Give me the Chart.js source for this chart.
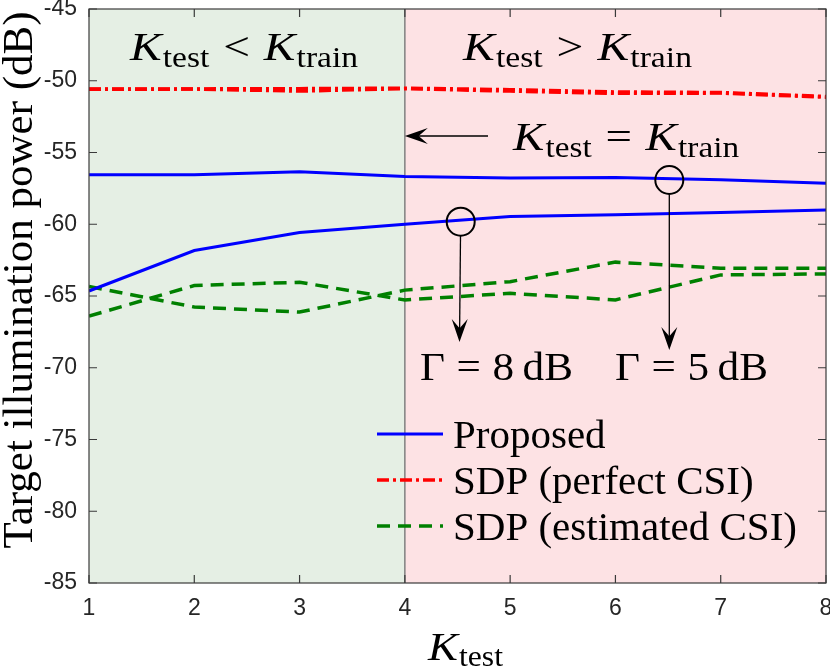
<!DOCTYPE html>
<html>
<head>
<meta charset="utf-8">
<script src="https://cdn.jsdelivr.net/npm/chart.js@4.4.1/dist/chart.umd.min.js"></script>
<style>
  html, body { margin: 0; padding: 0; background: #fff; }
  #zone { width: 830px; height: 669px; }
</style>
</head>
<body>
<div id="zone"><canvas id="powerChart" width="830" height="669"></canvas></div>
<script>
// Données (dB)
const kTest = [1, 2, 3, 4, 5, 6, 7, 8];
const kTrain = 4;
const proposedG8 = [-64.65, -61.83, -60.58, -60.0, -59.46, -59.34, -59.18, -59.0];
const proposedG5 = [-56.55, -56.55, -56.35, -56.67, -56.78, -56.75, -56.9, -57.15];
const perfectG8 = [-50.58, -50.57, -50.55, -50.52, -50.62, -50.78, -50.82, -51.1];
const perfectG5 = [-50.6, -50.58, -50.72, -50.55, -50.72, -50.88, -50.86, -51.15];
const estimatedA = [-64.34, -65.77, -66.12, -64.59, -64.0, -62.64, -63.06, -63.06];
const estimatedB = [-66.4, -64.27, -64.04, -65.28, -64.81, -65.27, -63.53, -63.46];
const xTicks = [1, 2, 3, 4, 5, 6, 7, 8];
const yTicks = [-85, -80, -75, -70, -65, -60, -55, -50, -45];
const legendLabels = ['Proposed', 'SDP (perfect CSI)', 'SDP (estimated CSI)'];

const serif = '"Liberation Serif", "Times New Roman", serif';
const sans = '"Liberation Sans", Arial, sans-serif';
const fontK = 'italic 41px ' + serif;
const fontSub = '29px ' + serif;
const fontRel = '41px ' + serif;

function points(values) {
    return kTest.map((k, i) => ({ x: k, y: values[i] }));
}

// Texte "mathématique" : morceaux successifs, étiré à la largeur voulue
function texteMath(ctx, morceaux, x, y, largeur) {
    let total = 0;
    morceaux.forEach(m => {
        ctx.font = m.f;
        m.w = ctx.measureText(m.t).width;
        total += m.w + (m.gap || 0);
    });
    ctx.save();
    ctx.translate(x, y);
    ctx.scale(largeur / total, 1);
    ctx.fillStyle = '#000';
    ctx.textBaseline = 'alphabetic';
    ctx.textAlign = 'left';
    let cx = 0;
    morceaux.forEach(m => {
        ctx.font = m.f;
        ctx.fillText(m.t, cx, m.dy || 0);
        cx += m.w + (m.gap || 0);
    });
    ctx.restore();
}

function kRel(rel) {
    return [
        { t: 'K', f: fontK, gap: 1 },
        { t: 'test', f: fontSub, dy: 6.5, gap: 12 },
        { t: rel, f: fontRel, gap: 12 },
        { t: 'K', f: fontK, gap: 1 },
        { t: 'train', f: fontSub, dy: 6.5 }
    ];
}

function gamma(val) {
    return [
        { t: 'Γ', f: fontRel, gap: 11 },
        { t: '=', f: fontRel, gap: 11 },
        { t: val, f: fontRel, gap: 8 },
        { t: 'dB', f: fontRel }
    ];
}

// Flèche avec pointe type "stealth"
function fleche(ctx, x0, y0, x1, y1) {
    const ang = Math.atan2(y1 - y0, x1 - x0);
    const L = 23, W = 8;
    ctx.save();
    ctx.strokeStyle = '#000';
    ctx.fillStyle = '#000';
    ctx.lineWidth = 1.3;
    ctx.beginPath();
    ctx.moveTo(x0, y0);
    ctx.lineTo(x1 - Math.cos(ang) * 10, y1 - Math.sin(ang) * 10);
    ctx.stroke();
    ctx.translate(x1, y1);
    ctx.rotate(ang);
    ctx.beginPath();
    ctx.moveTo(0, 0);
    ctx.lineTo(-L, -W);
    ctx.lineTo(-L * 0.6, 0);
    ctx.lineTo(-L, W);
    ctx.closePath();
    ctx.fill();
    ctx.restore();
}

// Fonds colorés et séparation en K_train
const fonds = {
    id: 'fonds',
    beforeDatasetsDraw(chart) {
        const { ctx, chartArea: a, scales: { x } } = chart;
        const xs = x.getPixelForValue(kTrain);
        ctx.save();
        ctx.fillStyle = '#e5efe4';
        ctx.fillRect(a.left, a.top, xs - a.left, a.bottom - a.top);
        ctx.fillStyle = '#fde2e4';
        ctx.fillRect(xs, a.top, a.right - xs, a.bottom - a.top);
        ctx.strokeStyle = '#808080';
        ctx.lineWidth = 1.5;
        ctx.beginPath();
        ctx.moveTo(xs, a.top);
        ctx.lineTo(xs, a.bottom);
        ctx.stroke();
        ctx.restore();
    }
};

// Cadre, graduations internes, annotations, légende, titres
const habillage = {
    id: 'habillage',
    afterDatasetsDraw(chart) {
        const { ctx, chartArea: a, scales: { x, y } } = chart;
        ctx.save();
        ctx.strokeStyle = '#3a3a3a';
        ctx.lineWidth = 1.2;
        ctx.beginPath();
        xTicks.forEach(v => {
            const px = x.getPixelForValue(v);
            ctx.moveTo(px, a.bottom); ctx.lineTo(px, a.bottom - 8);
            ctx.moveTo(px, a.top); ctx.lineTo(px, a.top + 8);
        });
        yTicks.forEach(v => {
            const py = y.getPixelForValue(v);
            ctx.moveTo(a.left, py); ctx.lineTo(a.left + 8, py);
            ctx.moveTo(a.right, py); ctx.lineTo(a.right - 8, py);
        });
        ctx.stroke();
        ctx.strokeRect(a.left, a.top, a.right - a.left, a.bottom - a.top);
        ctx.restore();

        // annotations
        texteMath(ctx, kRel('<'), 130, 60, 228);
        texteMath(ctx, kRel('>'), 463, 60, 229);
        texteMath(ctx, kRel('='), 513, 150, 226);
        fleche(ctx, 488, 136, x.getPixelForValue(kTrain), 136);

        ctx.save();
        ctx.strokeStyle = '#000';
        ctx.lineWidth = 2;
        ctx.beginPath();
        ctx.arc(460.7, 221.7, 14, 0, 2 * Math.PI);
        ctx.stroke();
        ctx.beginPath();
        ctx.arc(669.3, 180, 14, 0, 2 * Math.PI);
        ctx.stroke();
        ctx.restore();
        fleche(ctx, 460.5, 236, 459.5, 342);
        fleche(ctx, 669.3, 194.5, 669.3, 350);
        texteMath(ctx, gamma('8'), 420, 380, 153);
        texteMath(ctx, gamma('5'), 615, 380, 153);

        // légende
        const groupes = [0, 2, 4];
        groupes.forEach((di, i) => {
            const ds = chart.data.datasets[di];
            const ly = 434 + i * 46;
            ctx.save();
            ctx.strokeStyle = ds.borderColor;
            ctx.lineWidth = ds.borderWidth;
            ctx.setLineDash(ds.borderDash || []);
            ctx.beginPath();
            ctx.moveTo(377, ly);
            ctx.lineTo(443, ly);
            ctx.stroke();
            ctx.restore();
            ctx.save();
            ctx.font = '41px ' + serif;
            ctx.fillStyle = '#000';
            ctx.textBaseline = 'alphabetic';
            ctx.fillText(legendLabels[i], 453, ly + 14);
            ctx.restore();
        });

        // titres des axes
        texteMath(ctx, [
            { t: 'K', f: fontK, gap: 1 },
            { t: 'test', f: fontSub, dy: 6 }
        ], 428, 660, 75);
        ctx.save();
        ctx.translate(32, 280);
        ctx.rotate(-Math.PI / 2);
        ctx.font = '43px ' + serif;
        ctx.fillStyle = '#000';
        ctx.textAlign = 'center';
        ctx.textBaseline = 'alphabetic';
        ctx.fillText('Target illumination power (dB)', 0, 0);
        ctx.restore();
    }
};

function createChart() {
    const ctx = document.getElementById('powerChart').getContext('2d');
    const tickFont = { family: sans, size: 23 };
    new Chart(ctx, {
        type: 'line',
        data: {
            datasets: [
                { label: legendLabels[0], data: points(proposedG8), borderColor: '#0000ff', borderWidth: 3 },
                { label: legendLabels[0], data: points(proposedG5), borderColor: '#0000ff', borderWidth: 3 },
                { label: legendLabels[1], data: points(perfectG8), borderColor: '#ff0000', borderWidth: 3.5, borderDash: [12, 4, 3, 4] },
                { label: legendLabels[1], data: points(perfectG5), borderColor: '#ff0000', borderWidth: 3.5, borderDash: [12, 4, 3, 4] },
                { label: legendLabels[2], data: points(estimatedA), borderColor: '#008000', borderWidth: 3.5, borderDash: [13, 8] },
                { label: legendLabels[2], data: points(estimatedB), borderColor: '#008000', borderWidth: 3.5, borderDash: [13, 8] }
            ]
        },
        options: {
            responsive: false,
            animation: false,
            layout: { padding: { top: 9, right: 4, bottom: 0, left: 0 }, autoPadding: false },
            plugins: { legend: { display: false }, tooltip: { enabled: false } },
            elements: { point: { radius: 0 }, line: { tension: 0, fill: false } },
            scales: {
                x: {
                    type: 'linear', min: 1, max: 8,
                    afterBuildTicks: s => { s.ticks = xTicks.map(v => ({ value: v })); },
                    afterFit: s => { s.height = 86; s.paddingLeft = 0; s.paddingRight = 0; },
                    grid: { display: false, drawTicks: false },
                    border: { display: false },
                    ticks: { padding: 12, font: tickFont, color: '#262626', maxRotation: 0 }
                },
                y: {
                    type: 'linear', min: -85, max: -45,
                    afterBuildTicks: s => { s.ticks = yTicks.map(v => ({ value: v })); },
                    afterFit: s => { s.width = 89; s.paddingTop = 0; s.paddingBottom = 0; },
                    grid: { display: false, drawTicks: false },
                    border: { display: false },
                    ticks: { padding: 12, font: tickFont, color: '#262626' }
                }
            }
        },
        plugins: [fonds, habillage]
    });
}

createChart();
</script>
</body>
</html>
